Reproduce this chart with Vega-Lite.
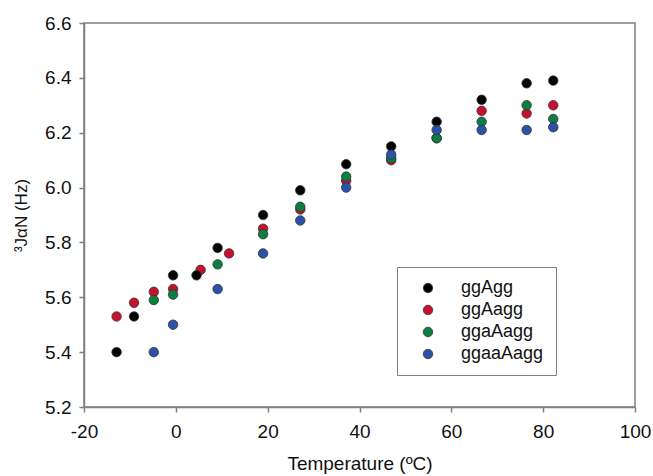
{
  "$schema": "https://vega.github.io/schema/vega-lite/v6.json",
  "width": 551,
  "height": 384,
  "autosize": {"type": "none"},
  "padding": {"left": 84, "top": 23, "right": 18, "bottom": 69},
  "background": "white",
  "config": {
    "font": "Liberation Sans",
    "view": {"stroke": "#7f7f7f", "strokeWidth": 1.5},
    "axis": {
      "grid": false,
      "domainColor": "#7f7f7f",
      "domainWidth": 1.5,
      "tickColor": "#7f7f7f",
      "tickWidth": 1.5,
      "tickSize": 5,
      "labelFont": "Liberation Sans",
      "labelFontSize": 19,
      "labelColor": "#111",
      "labelFlush": false,
      "titleFont": "Liberation Sans",
      "titleFontSize": 19,
      "titleFontWeight": "normal",
      "titleColor": "#111"
    }
  },
  "data": {
    "values": [
      {"T": -12.9, "J": 5.40, "s": "ggAgg"},
      {"T": -9.1, "J": 5.53, "s": "ggAgg"},
      {"T": -0.6, "J": 5.68, "s": "ggAgg"},
      {"T": 4.5, "J": 5.68, "s": "ggAgg"},
      {"T": 9.1, "J": 5.78, "s": "ggAgg"},
      {"T": 19.0, "J": 5.90, "s": "ggAgg"},
      {"T": 27.1, "J": 5.99, "s": "ggAgg"},
      {"T": 37.1, "J": 6.085, "s": "ggAgg"},
      {"T": 46.9, "J": 6.15, "s": "ggAgg"},
      {"T": 56.8, "J": 6.24, "s": "ggAgg"},
      {"T": 66.6, "J": 6.32, "s": "ggAgg"},
      {"T": 76.4, "J": 6.38, "s": "ggAgg"},
      {"T": 82.2, "J": 6.39, "s": "ggAgg"},
      {"T": -12.9, "J": 5.53, "s": "ggAagg"},
      {"T": -9.1, "J": 5.58, "s": "ggAagg"},
      {"T": -4.8, "J": 5.62, "s": "ggAagg"},
      {"T": -0.6, "J": 5.63, "s": "ggAagg"},
      {"T": 5.4, "J": 5.70, "s": "ggAagg"},
      {"T": 11.6, "J": 5.76, "s": "ggAagg"},
      {"T": 19.0, "J": 5.85, "s": "ggAagg"},
      {"T": 27.1, "J": 5.92, "s": "ggAagg"},
      {"T": 37.1, "J": 6.025, "s": "ggAagg"},
      {"T": 46.9, "J": 6.10, "s": "ggAagg"},
      {"T": 56.8, "J": 6.18, "s": "ggAagg"},
      {"T": 66.6, "J": 6.28, "s": "ggAagg"},
      {"T": 76.4, "J": 6.27, "s": "ggAagg"},
      {"T": 82.2, "J": 6.30, "s": "ggAagg"},
      {"T": -4.8, "J": 5.59, "s": "ggaAagg"},
      {"T": -0.6, "J": 5.61, "s": "ggaAagg"},
      {"T": 9.1, "J": 5.72, "s": "ggaAagg"},
      {"T": 19.0, "J": 5.83, "s": "ggaAagg"},
      {"T": 27.1, "J": 5.93, "s": "ggaAagg"},
      {"T": 37.1, "J": 6.04, "s": "ggaAagg"},
      {"T": 46.9, "J": 6.107, "s": "ggaAagg"},
      {"T": 56.8, "J": 6.18, "s": "ggaAagg"},
      {"T": 66.6, "J": 6.24, "s": "ggaAagg"},
      {"T": 76.4, "J": 6.30, "s": "ggaAagg"},
      {"T": 82.2, "J": 6.25, "s": "ggaAagg"},
      {"T": -4.8, "J": 5.40, "s": "ggaaAagg"},
      {"T": -0.6, "J": 5.50, "s": "ggaaAagg"},
      {"T": 9.1, "J": 5.63, "s": "ggaaAagg"},
      {"T": 19.0, "J": 5.76, "s": "ggaaAagg"},
      {"T": 27.1, "J": 5.88, "s": "ggaaAagg"},
      {"T": 37.1, "J": 6.00, "s": "ggaaAagg"},
      {"T": 46.9, "J": 6.12, "s": "ggaaAagg"},
      {"T": 56.8, "J": 6.21, "s": "ggaaAagg"},
      {"T": 66.6, "J": 6.21, "s": "ggaaAagg"},
      {"T": 76.4, "J": 6.21, "s": "ggaaAagg"},
      {"T": 82.2, "J": 6.22, "s": "ggaaAagg"}
    ]
  },
  "mark": {"type": "point", "filled": true, "shape": "circle", "size": 90, "stroke": "#333", "strokeWidth": 0.8, "opacity": 1},
  "encoding": {
    "x": {
      "field": "T", "type": "quantitative",
      "scale": {"domain": [-20, 100], "nice": false, "zero": false},
      "axis": {"values": [-20, 0, 20, 40, 60, 80, 100], "labelExpr": "datum.value + ''", "title": "Temperature (ºC)", "labelPadding": 10, "titlePadding": 13}
    },
    "y": {
      "field": "J", "type": "quantitative",
      "scale": {"domain": [5.2, 6.6], "nice": false, "zero": false},
      "axis": {"values": [5.2, 5.4, 5.6, 5.8, 6.0, 6.2, 6.4, 6.6], "format": ".1f", "title": "³JαN (Hz)", "titleFontSize": 17, "labelPadding": 8, "titlePadding": 14}
    },
    "color": {
      "field": "s", "type": "nominal",
      "scale": {"domain": ["ggAgg", "ggAagg", "ggaAagg", "ggaaAagg"], "range": ["#000000", "#c8102e", "#0b7f3f", "#2a52a8"]},
      "legend": {
        "title": null,
        "orient": "none",
        "legendX": 313,
        "legendY": 244,
        "padding": 12,
        "strokeColor": "#7f7f7f",
        "fillColor": "white",
        "symbolOffset": 10,
        "symbolSize": 90,
        "symbolType": "circle",
        "symbolStrokeColor": "#333",
        "symbolStrokeWidth": 0.8,
        "labelOffset": 24,
        "labelFont": "Liberation Sans",
        "labelFontSize": 18,
        "labelColor": "#111",
        "rowPadding": 4
      }
    },
    "order": {"field": "s", "sort": "ascending"}
  }
}
